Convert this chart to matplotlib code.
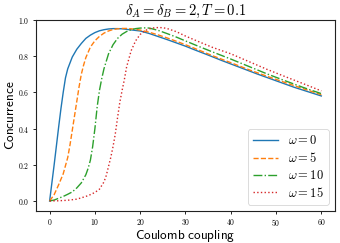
import matplotlib
matplotlib.use("Agg")
import matplotlib.pyplot as plt
from matplotlib.ticker import FuncFormatter

plt.rcParams['mathtext.fontset'] = 'cm'

# Coulomb coupling sample points and concurrence
u_blue = [0, 1, 2, 2.5, 3, 3.5, 4, 5, 6, 7, 8, 9, 10, 11, 12, 13, 14, 15, 16, 17, 18, 20,
          22, 24, 26, 28, 30, 32, 35, 38, 42, 46, 50, 54, 57, 60]
c_blue = [0.0, 0.20, 0.41, 0.51, 0.60, 0.68, 0.73, 0.795, 0.838, 0.870, 0.898, 0.916, 0.930,
          0.940, 0.946, 0.950, 0.952, 0.952, 0.951, 0.948, 0.945, 0.939,
          0.925, 0.908, 0.891, 0.873, 0.855, 0.835, 0.806, 0.776, 0.738, 0.700, 0.664,
          0.628, 0.604, 0.580]

u_orange = [0, 1, 2, 3, 4, 4.5, 5, 5.5, 6, 6.5, 7, 7.5, 8, 9, 10, 11, 12, 13, 14, 15, 16,
            17, 18, 20, 22, 24, 26, 28, 30, 33, 36, 40, 44, 48, 52, 56, 60]
c_orange = [0.0, 0.035, 0.09, 0.15, 0.24, 0.31, 0.39, 0.47, 0.55, 0.63, 0.70, 0.75, 0.792,
            0.850, 0.885, 0.909, 0.927, 0.939, 0.947, 0.951, 0.953, 0.953, 0.951, 0.944,
            0.932, 0.917, 0.900, 0.882, 0.863, 0.833, 0.802, 0.764, 0.725, 0.689, 0.654,
            0.620, 0.587]

u_green = [0, 1, 2, 3, 4, 5, 6, 7, 8, 8.5, 9, 9.5, 10, 10.5, 11, 11.5, 12, 13, 14, 15, 16,
           17, 18, 19, 20, 21, 22, 24, 26, 28, 30, 33, 36, 40, 44, 48, 52, 56, 60]
c_green = [0.0, 0.005, 0.015, 0.025, 0.037, 0.05, 0.072, 0.10, 0.145, 0.18, 0.225, 0.30,
           0.40, 0.52, 0.61, 0.675, 0.73, 0.812, 0.863, 0.898, 0.921, 0.936, 0.946, 0.952,
           0.955, 0.956, 0.955, 0.942, 0.924, 0.905, 0.884, 0.853, 0.823, 0.784, 0.743,
           0.702, 0.664, 0.627, 0.593]

u_red = [0, 2, 4, 6, 8, 9, 10, 11, 12, 12.5, 13, 13.5, 14, 14.5, 15, 15.5, 16, 16.5, 17, 18,
         19, 20, 21, 22, 23, 24, 25, 26, 28, 30, 33, 36, 40, 44, 48, 52, 56, 60]
c_red = [0.0, 0.001, 0.004, 0.01, 0.025, 0.035, 0.047, 0.065, 0.105, 0.14, 0.19, 0.24, 0.30,
         0.37, 0.46, 0.545, 0.61, 0.67, 0.74, 0.83, 0.885, 0.92, 0.94, 0.951, 0.956, 0.958,
         0.957, 0.952, 0.935, 0.911, 0.879, 0.848, 0.813, 0.770, 0.727, 0.687, 0.648, 0.608]

labels = [r'$\omega=0$', r'$\omega=5$', r'$\omega=10$', r'$\omega=15$']
x_ticks = [0, 10, 20, 30, 40, 50, 60]
y_ticks = [0.0, 0.2, 0.4, 0.6, 0.8, 1.0]

fig = plt.figure(figsize=(3.4, 2.43), dpi=100)
ax = fig.add_axes([0.106, 0.132, 0.879, 0.786])

ax.plot(u_blue, c_blue, color='#1f77b4', ls='-', lw=1.0, label=labels[0])
ax.plot(u_orange, c_orange, color='#ff7f0e', ls='--', lw=1.0, label=labels[1])
ax.plot(u_green, c_green, color='#2ca02c', ls='-.', lw=1.0, label=labels[2])
ax.plot(u_red, c_red, color='#d62728', ls=':', lw=1.0, label=labels[3])

ax.set_xlim(-3, 63)
ax.set_ylim(-0.055, 1.0)
ax.set_xticks(x_ticks)
ax.set_yticks(y_ticks)
ax.xaxis.set_major_formatter(FuncFormatter(lambda v, p: r'$%d$' % v))
ax.yaxis.set_major_formatter(FuncFormatter(lambda v, p: r'$%.1f$' % v))
ax.tick_params(labelsize=5.5, length=2.5, width=0.6, pad=2)
for s in ax.spines.values():
    s.set_linewidth(0.8)
    s.set_color('#222222')

ax.set_xlabel(r'$\mathsf{Coulomb\ coupling}$', fontsize=9.5, labelpad=0)
ax.set_ylabel(r'$\mathsf{Concurrence}$', fontsize=9.5, labelpad=1)
ax.set_title(r'$\delta_A=\delta_B=2, T=0.1$', fontsize=10.5, pad=3)

leg = ax.legend(loc='lower right', fontsize=9, handlelength=2.0,
                borderaxespad=0.5, labelspacing=0.3)
leg.get_frame().set_linewidth(0.6)

fig.savefig('out.png', dpi=100)
